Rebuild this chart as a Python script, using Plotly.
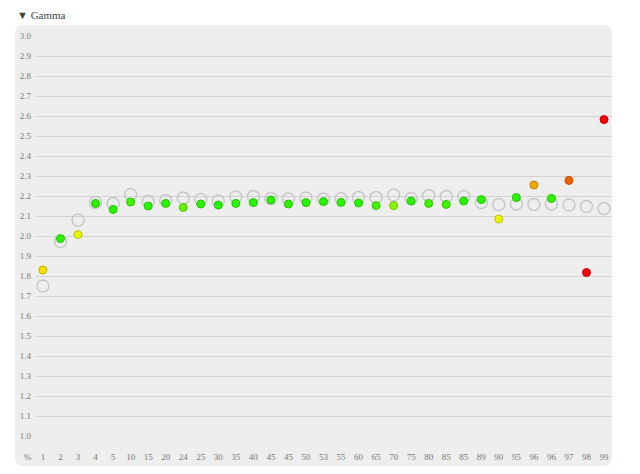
import numpy as np
import plotly.graph_objects as go

# ---- data ----
tick_labels = ["1", "2", "3", "4", "5", "10", "15", "20", "24", "25", "30", "35", "40", "45", "45",
               "50", "53", "55", "60", "65", "70", "75", "80", "85", "85", "89", "90", "95", "96",
               "96", "97", "98", "99"]
reference_gamma = [1.75, 1.972, 2.08, 2.167, 2.162, 2.208, 2.172, 2.177, 2.19, 2.183, 2.175, 2.195,
                   2.197, 2.187, 2.185, 2.19, 2.185, 2.188, 2.192, 2.192, 2.205, 2.188, 2.202,
                   2.197, 2.197, 2.167, 2.158, 2.16, 2.158, 2.16, 2.155, 2.147, 2.137]
measured_gamma = [1.83, 1.987, 2.007, 2.163, 2.133, 2.17, 2.15, 2.163, 2.143, 2.16, 2.155, 2.163,
                  2.167, 2.18, 2.16, 2.167, 2.172, 2.168, 2.165, 2.152, 2.152, 2.175, 2.163,
                  2.158, 2.175, 2.182, 2.085, 2.192, 2.255, 2.188, 2.278, 1.817, 2.582]
y_ticks = [1.0 + 0.1 * i for i in range(21)]

# ---- layout geometry (pixels, page coordinates; page has 8px body margin) ----
OFF = 8
W, H = 640 - OFF, 474 - OFF
PL, PR, PT, PB = 33, 612, 36, 436          # plot area in page px
L, T = PL - OFF, PT - OFF
R, B = W - (PR - OFF), H - (PB - OFF)
pw, ph = W - L - R, H - T - B


def px_x(p):
    return (p - PL) / pw


def px_y(p):
    return (PB - p) / ph


def dev_color(ref, val, light):
    d = abs(val - ref)
    hue = float(np.interp(d, [0.03, 0.045, 0.05, 0.08, 0.1, 0.13, 0.3],
                          [110, 100, 88, 55, 38, 20, 0]))
    return f"hsl({hue:.0f},100%,{light}%)"


xs = list(range(len(tick_labels)))
fill_colors = [dev_color(r, v, 48) for r, v in zip(reference_gamma, measured_gamma)]
line_colors = [dev_color(r, v, 38) for r, v in zip(reference_gamma, measured_gamma)]

fig = go.Figure()
fig.add_trace(go.Scatter(
    x=xs, y=reference_gamma, mode="markers",
    marker=dict(symbol="circle", size=12, color="rgba(0,0,0,0)",
                line=dict(color="#c8c8c8", width=1.5)),
    hoverinfo="x+y", showlegend=False))
fig.add_trace(go.Scatter(
    x=xs, y=measured_gamma, mode="markers",
    marker=dict(symbol="circle", size=8, color=fill_colors,
                line=dict(color=line_colors, width=1)),
    hoverinfo="x+y", showlegend=False))

# rounded panel background
x0, x1 = px_x(12), px_x(612)
y0, y1 = px_y(466), px_y(25)
rx, ry = 8 / pw, 8 / ph
path = (f"M {x0+rx},{y1} L {x1-rx},{y1} Q {x1},{y1} {x1},{y1-ry} "
        f"L {x1},{y0+ry} Q {x1},{y0} {x1-rx},{y0} L {x0+rx},{y0} "
        f"Q {x0},{y0} {x0},{y0+ry} L {x0},{y1-ry} Q {x0},{y1} {x0+rx},{y1} Z")

font_fam = "Liberation Serif, DejaVu Serif, serif"
fig.update_layout(
    width=W, height=H,
    margin=dict(l=L, r=R, t=T, b=B),
    paper_bgcolor="white", plot_bgcolor="rgba(0,0,0,0)",
    shapes=[dict(type="path", path=path, xref="paper", yref="paper",
                 fillcolor="#eeeeee", line=dict(width=0), layer="below")],
    annotations=[
        dict(text="▼ Gamma", xref="paper", yref="paper", x=px_x(13), y=px_y(8),
             xanchor="left", yanchor="top", showarrow=False, borderpad=0,
             font=dict(family=font_fam, size=11, color="#444444")),
        dict(text="%", xref="paper", yref="paper", x=px_x(25), y=px_y(457),
             xanchor="center", yanchor="middle", showarrow=False,
             font=dict(family=font_fam, size=9, color="#777777")),
    ],
    xaxis=dict(range=[-(40 - PL) / 17.625, 32 + (612 - 604) / 17.625],
               tickmode="array", tickvals=xs, ticktext=tick_labels,
               showgrid=False, zeroline=False, showline=False, ticks="",
               ticklabelstandoff=14,
               tickfont=dict(family=font_fam, size=9, color="#777777")),
    yaxis=dict(range=[1.0, 3.0], tickmode="array", tickvals=y_ticks,
               ticktext=[f"{v:.1f}" for v in y_ticks],
               showgrid=True, gridcolor="#d2d2d2", gridwidth=1,
               zeroline=False, showline=False, ticks="",
               ticklabelstandoff=4,
               tickfont=dict(family=font_fam, size=9, color="#777777")),
)

fig.write_html("out.html")
